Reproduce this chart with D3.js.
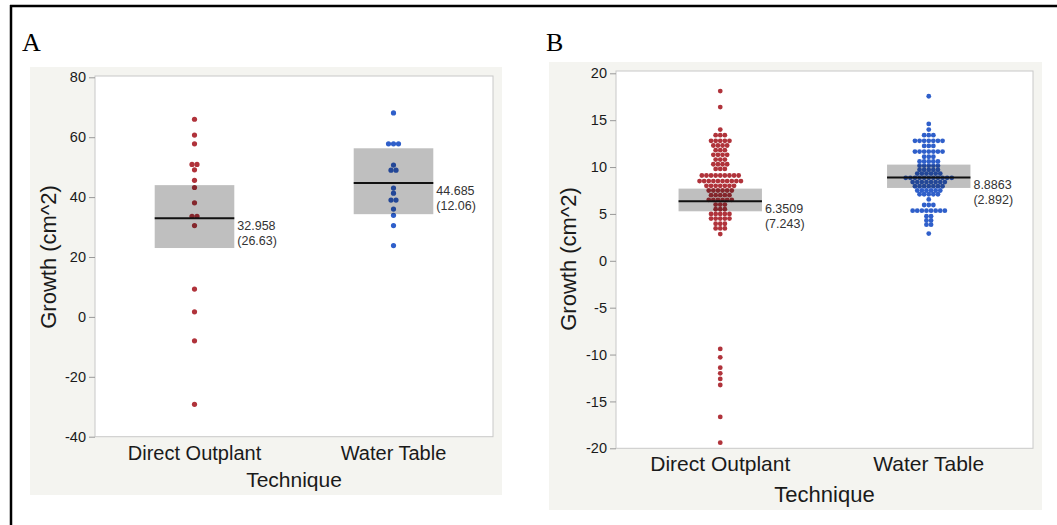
<!DOCTYPE html>
<html>
<head>
<meta charset="utf-8">
<script src="https://cdn.jsdelivr.net/npm/d3@7.9.0/dist/d3.min.js"></script>
<style>
  body { margin: 0; background: #fff; }
  svg { display: block; font-family: "Liberation Sans", Arial, sans-serif; }
</style>
</head>
<body>
<svg id="chart" width="1057" height="525"></svg>
<script>
// categories shared by both panels
const categories = ['Direct Outplant', 'Water Table'];

// Panel A values
const aDirect = [66.0, 60.7, 57.8, 50.9, 50.9, 49.1, 45.6, 43.2, 38.1, 33.6, 33.6, 30.5, 9.3, 1.7, -8.0, -29.2];
const aWater = [68.1, 57.8, 57.8, 57.8, 50.7, 49.0, 49.0, 43.0, 41.3, 39.0, 39.0, 36.0, 33.9, 30.5, 23.8];
const aMeans = [32.958, 44.685];
const aSDs = ['26.63', '12.06'];
const aBoxLo = [23.0, 34.3];
const aBoxHi = [44.0, 56.3];
const aTicks = [80, 60, 40, 20, 0, -20, -40];

// Panel B values, row by row
const bDirect = [
  18.1, 16.4, 14.0,
  13.4, 13.4, 13.4,
  12.8, 12.8, 12.8, 12.8, 12.8,
  12.3, 12.3, 12.3, 12.3,
  11.8, 11.8, 11.8,
  11.3, 11.3, 11.3, 11.3,
  10.8, 10.8, 10.8,
  10.3, 10.3, 10.3, 10.3,
  9.8, 9.8, 9.8,
  9.1, 9.1, 9.1, 9.1, 9.1, 9.1, 9.1, 9.1, 9.1,
  8.5, 8.5, 8.5, 8.5, 8.5, 8.5, 8.5, 8.5, 8.5, 8.5,
  8.0, 8.0, 8.0, 8.0, 8.0, 8.0, 8.0,
  7.5, 7.5, 7.5, 7.5, 7.5, 7.5,
  7.0, 7.0, 7.0, 7.0, 7.0,
  6.5, 6.5, 6.5, 6.5, 6.5, 6.5,
  6.0, 6.0, 6.0,
  5.5, 5.5, 5.5,
  5.0, 5.0, 5.0, 5.0, 5.0,
  4.5, 4.5, 4.5, 4.5, 4.5,
  3.95, 3.95, 3.95,
  3.45, 3.45, 3.45,
  2.85,
  -9.4, -10.3, -11.4, -12.0, -12.6, -13.25, -16.65, -19.4
];
const bWater = [
  17.55, 14.6, 14.0,
  13.4, 13.4, 13.4,
  12.8, 12.8, 12.8, 12.8, 12.8, 12.8, 12.8,
  12.25, 12.25, 12.25,
  11.65, 11.65, 11.65, 11.65, 11.65, 11.65, 11.65,
  11.1, 11.1, 11.1,
  10.6, 10.6, 10.6, 10.6, 10.6,
  10.15, 10.15, 10.15, 10.15, 10.15,
  9.7, 9.7, 9.7, 9.7, 9.7,
  9.3, 9.3, 9.3, 9.3, 9.3, 9.3,
  8.85, 8.85, 8.85, 8.85, 8.85, 8.85, 8.85, 8.85, 8.85, 8.85, 8.85,
  8.4, 8.4, 8.4, 8.4, 8.4, 8.4, 8.4, 8.4,
  7.95, 7.95, 7.95, 7.95, 7.95, 7.95, 7.95,
  7.5, 7.5, 7.5, 7.5, 7.5, 7.5,
  7.1, 7.1, 7.1, 7.1, 7.1,
  6.55,
  5.95, 5.95, 5.95,
  5.35, 5.35, 5.35, 5.35, 5.35, 5.35, 5.35, 5.35,
  4.75, 4.75,
  4.3, 4.3,
  3.85, 3.85,
  2.9
];
const bMeans = [6.3509, 8.8863];
const bSDs = ['7.243', '2.892'];
const bBoxLo = [5.28, 7.77];
const bBoxHi = [7.7, 10.26];
const bTicks = [20, 15, 10, 5, 0, -5, -10, -15, -20];

const colors = ['#b0333b', '#2f5fca'];

const svg = d3.select('#chart');

// outer frame (only top and left edges show)
svg.append('line').attr('x1', 10).attr('y1', 6).attr('x2', 1057).attr('y2', 6)
  .attr('stroke', '#000').attr('stroke-width', 2.5);
svg.append('line').attr('x1', 11).attr('y1', 5).attr('x2', 11).attr('y2', 525)
  .attr('stroke', '#000').attr('stroke-width', 2.5);

function drawPanel(p) {
  let g = svg.append('g');

  g.append('text')
    .attr('x', p.letterX).attr('y', 51)
    .attr('font-family', '"Liberation Serif", "Times New Roman", serif')
    .attr('font-size', 26).attr('fill', '#000')
    .text(p.letter);

  g.append('rect')
    .attr('x', p.bg[0]).attr('y', p.bg[1]).attr('width', p.bg[2]).attr('height', p.bg[3])
    .attr('fill', '#f4f4f0');

  g.append('rect')
    .attr('x', p.left).attr('y', p.frameTop)
    .attr('width', p.right - p.left).attr('height', p.bottom - p.frameTop)
    .attr('fill', '#fff').attr('stroke', '#c8c8c8');

  let y = d3.scaleLinear().domain(p.domain).range([p.bottom, p.top]);
  let x = d3.scaleBand().domain(categories).range([p.left, p.right]);
  let bw = x.bandwidth();

  // y axis, plain hyphen for negatives like the original
  let yAxis = g.append('g')
    .attr('transform', `translate(${p.left},0)`)
    .call(d3.axisLeft(y).tickValues(p.ticks).tickFormat((d) => String(d)).tickSize(6).tickPadding(3));
  yAxis.select('.domain').remove();
  yAxis.selectAll('.tick line').attr('stroke', '#999');
  yAxis.selectAll('.tick text')
    .attr('font-size', 14.5).attr('fill', '#1a1a1a')
    .attr('font-family', '"Liberation Sans", Arial, sans-serif');

  // x axis (category names)
  let xAxis = g.append('g')
    .attr('transform', `translate(0,${p.bottom})`)
    .call(d3.axisBottom(x).tickSize(0).tickPadding(p.xPad));
  xAxis.select('.domain').remove();
  xAxis.selectAll('.tick text')
    .attr('font-size', p.xLabelSize).attr('fill', '#1a1a1a')
    .attr('font-family', '"Liberation Sans", Arial, sans-serif');

  g.append('text')
    .attr('x', (p.left + p.right) / 2).attr('y', p.xTitleY)
    .attr('text-anchor', 'middle').attr('font-size', p.xTitleSize).attr('fill', '#1a1a1a')
    .text('Technique');

  g.append('text')
    .attr('transform', `translate(${p.yTitleX},${p.yTitleY}) rotate(-90)`)
    .attr('text-anchor', 'middle').attr('font-size', 22).attr('fill', '#1a1a1a')
    .text('Growth (cm^2)');

  p.series.forEach((values, i) => {
    let cx = x(categories[i]) + bw / 2;

    // points: equal values sit side by side in a row
    let rows = d3.groups(values, (v) => v);
    rows.forEach(([v, list]) => {
      list.forEach((_, k) => {
        g.append('circle')
          .attr('cx', cx + (k - (list.length - 1) / 2) * p.gap)
          .attr('cy', y(v))
          .attr('r', p.r)
          .attr('fill', colors[i]);
      });
    });

    // translucent box over the points, then the mean line
    let bx = cx - bw * 0.2;
    g.append('rect')
      .attr('x', bx).attr('y', y(p.hi[i]))
      .attr('width', bw * 0.4).attr('height', y(p.lo[i]) - y(p.hi[i]))
      .attr('fill', '#000').attr('fill-opacity', 0.25);
    g.append('line')
      .attr('x1', bx).attr('x2', bx + bw * 0.4)
      .attr('y1', y(p.means[i])).attr('y2', y(p.means[i]))
      .attr('stroke', '#111').attr('stroke-width', 2);

    let lx = bx + bw * 0.4 + 3;
    g.append('text')
      .attr('x', lx).attr('y', y(p.means[i]) + 12)
      .attr('font-size', 12.5).attr('fill', '#333')
      .text(String(p.means[i]));
    g.append('text')
      .attr('x', lx).attr('y', y(p.means[i]) + 27)
      .attr('font-size', 12.5).attr('fill', '#333')
      .text(`(${p.sds[i]})`);
  });
}

drawPanel({
  letter: 'A', letterX: 22,
  bg: [30, 67, 472, 428],
  left: 95, right: 493, top: 77.3, frameTop: 76, bottom: 436.7,
  domain: [-40, 80], ticks: aTicks,
  series: [aDirect, aWater], means: aMeans, sds: aSDs, lo: aBoxLo, hi: aBoxHi,
  r: 2.6, gap: 5,
  xPad: 9, xLabelSize: 20, xTitleY: 487, xTitleSize: 21,
  yTitleX: 56, yTitleY: 257
});

drawPanel({
  letter: 'B', letterX: 546,
  bg: [549, 62, 493, 448],
  left: 616, right: 1033, top: 73.3, frameTop: 71, bottom: 448.3,
  domain: [-20, 20], ticks: bTicks,
  series: [bDirect, bWater], means: bMeans, sds: bSDs, lo: bBoxLo, hi: bBoxHi,
  r: 2.4, gap: 4.6,
  xPad: 8, xLabelSize: 21, xTitleY: 502, xTitleSize: 22,
  yTitleX: 576, yTitleY: 259
});
</script>
</body>
</html>
